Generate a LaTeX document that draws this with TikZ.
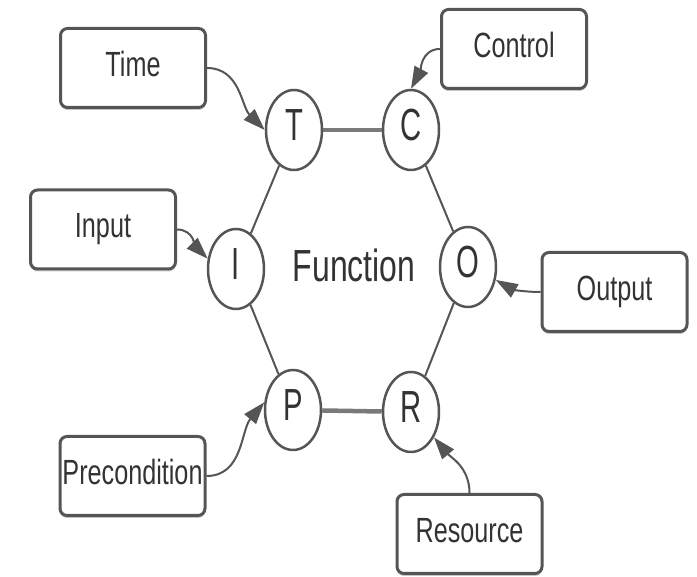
\documentclass[tikz,border=0pt]{standalone}
\usepackage{fontspec}
\setmainfont{Liberation Sans}
\usetikzlibrary{arrows.meta,shapes.geometric,shadows}
\definecolor{ln}{HTML}{555555}
\definecolor{tx}{HTML}{333333}
\definecolor{thk}{HTML}{7A7A7A}
\newcommand\nrw[2]{\scalebox{#1}[1]{#2}}
\begin{document}
\begin{tikzpicture}[x=1pt,y=1pt,
  boxnode/.style={draw=ln, line width=3pt, rounded corners=7pt, fill=white,
    minimum width=145pt, minimum height=79pt, inner sep=0pt, text=tx,
    font=\fontsize{35}{40}\selectfont, text height=25pt, text depth=8pt,
    drop shadow={shadow xshift=0pt, shadow yshift=-2.5pt, fill=black!22, opacity=1}},
  letnode/.style={ellipse, draw=ln, line width=2.5pt, fill=white, minimum width=56pt,
    minimum height=80pt, inner sep=0pt, text=tx, font=\fontsize{45}{50}\selectfont,
    text height=32pt, text depth=10pt},
  hexedge/.style={draw=ln, line width=2pt},
  thickedge/.style={draw=thk, line width=4.5pt},
  arr/.style={draw=ln, line width=2pt, -{Triangle[length=22pt, width=15pt]}},
]
\useasboundingbox (0,0) rectangle (697,577);

% boxes
\node[boxnode] (time) at (133,509) {\nrw{0.72}{Time}};
\node[boxnode] (control) at (514,528) {\nrw{0.72}{Control}};
\node[boxnode] (input) at (103,347.5) {\nrw{0.72}{Input}};
\node[boxnode] (output) at (614.5,285) {\nrw{0.72}{Output}};
\node[boxnode] (precond) at (132.5,101) {\nrw{0.72}{Precondition}};
\node[boxnode] (resource) at (469.5,43) {\nrw{0.72}{Resource}};

% circles
\node[letnode] (T) at (294,447) {\nrw{0.65}{T}};
\node[letnode] (C) at (411,447) {\nrw{0.65}{C}};
\node[letnode] (I) at (236,308) {\nrw{0.65}{I}};
\node[letnode] (O) at (468,310) {\nrw{0.65}{O}};
\node[letnode] (P) at (293,167) {\nrw{0.65}{P}};
\node[letnode] (R) at (411,165) {\nrw{0.65}{R}};

\node[text=tx, font=\fontsize{45}{50}\selectfont, inner sep=0pt, text height=32pt, text depth=0pt] (fn) at (354,311) {\nrw{0.71}{Function}};

% hexagon edges
\draw[thickedge] (T) -- (C);
\draw[thickedge] (P) -- (R);
\draw[hexedge] (C) -- (O);
\draw[hexedge] (O) -- (R);
\draw[hexedge] (P) -- (I);
\draw[hexedge] (I) -- (T);

% arrows
\draw[arr] (time.east) to[out=0,in=135] (T.west);
\draw[arr] (control.west) to[out=180,in=62] (C.north);
\draw[arr] (input.east) to[out=0,in=135] (I.160);
\draw[arr] (output.west) to[out=180,in=-30] (O.-25);
\draw[arr] (precond.east) to[out=0,in=230] (P.165);
\draw[arr] (resource.north) to[out=90,in=-50] (R.-48);
\end{tikzpicture}
\end{document}
